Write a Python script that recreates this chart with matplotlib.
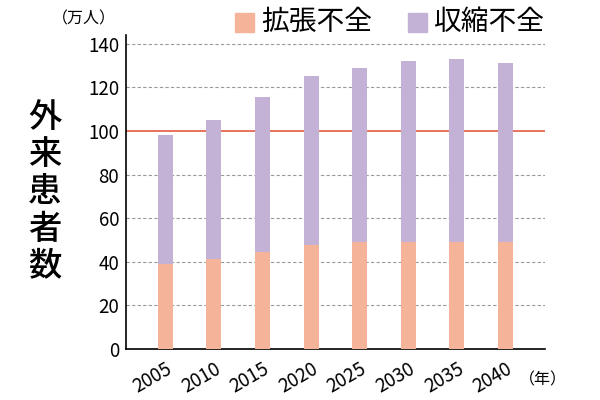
import matplotlib.pyplot as plt
from matplotlib.patches import Rectangle

plt.rcParams['font.family'] = ['Noto Sans CJK JP', 'DejaVu Sans']

years = ['2005', '2010', '2015', '2020', '2025', '2030', '2035', '2040']
diastolic = [39, 41.5, 44.5, 47.5, 49, 49, 49, 49]        # 拡張不全
systolic_total = [98, 105, 115.5, 125, 129, 132, 133, 131]  # top of stacked bar
systolic = [t - d for t, d in zip(systolic_total, diastolic)]  # 収縮不全

pink = '#F5B49A'
purple = '#C3B2D6'

fig = plt.figure(figsize=(6, 4), dpi=100)
ax = fig.add_axes([0.21, 0.1275, 0.698, 0.785])

x = range(len(years))
ax.bar(x, diastolic, width=0.31, color=pink, zorder=3)
ax.bar(x, systolic, width=0.31, bottom=diastolic, color=purple, zorder=3)

# grid lines and the 100 reference line
for v in [20, 40, 60, 80, 120, 140]:
    ax.axhline(v, color='#9a9a9a', lw=0.8, ls=(0, (3, 2)), zorder=1)
ax.axhline(100, color='#E8735A', lw=1.4, zorder=2)

ax.set_xlim(-0.81, 7.81)
ax.set_ylim(0, 144)
ax.set_yticks(range(0, 141, 20))
ax.set_xticks(list(x))
ax.set_xticklabels(years, rotation=30, ha='right', va='top', rotation_mode='anchor')
ax.tick_params(axis='both', length=0, labelsize=13.5)
ax.tick_params(axis='x', pad=7)
ax.tick_params(axis='y', pad=5)

for s in ['top', 'right']:
    ax.spines[s].set_visible(False)
for s in ['left', 'bottom']:
    ax.spines[s].set_linewidth(1.2)
    ax.spines[s].set_color('black')

# labels
fig.text(0.075, 0.52, '\n'.join('外来患者数'), fontsize=24, fontweight='medium',
         ha='center', va='center', linespacing=1.08)
fig.text(0.14, 0.952, '（万人）', fontsize=11.5, ha='center', va='center')
fig.text(0.905, 0.05, '（年）', fontsize=11.5, ha='center', va='center')

# legend
fig.patches.append(Rectangle((0.392, 0.92), 0.032, 0.048, transform=fig.transFigure,
                             color=pink))
fig.text(0.435, 0.944, '拡張不全', fontsize=20, ha='left', va='center')
fig.patches.append(Rectangle((0.68, 0.92), 0.032, 0.048, transform=fig.transFigure,
                             color=purple))
fig.text(0.722, 0.944, '収縮不全', fontsize=20, ha='left', va='center')

fig.savefig('out.png')
plt.close()
